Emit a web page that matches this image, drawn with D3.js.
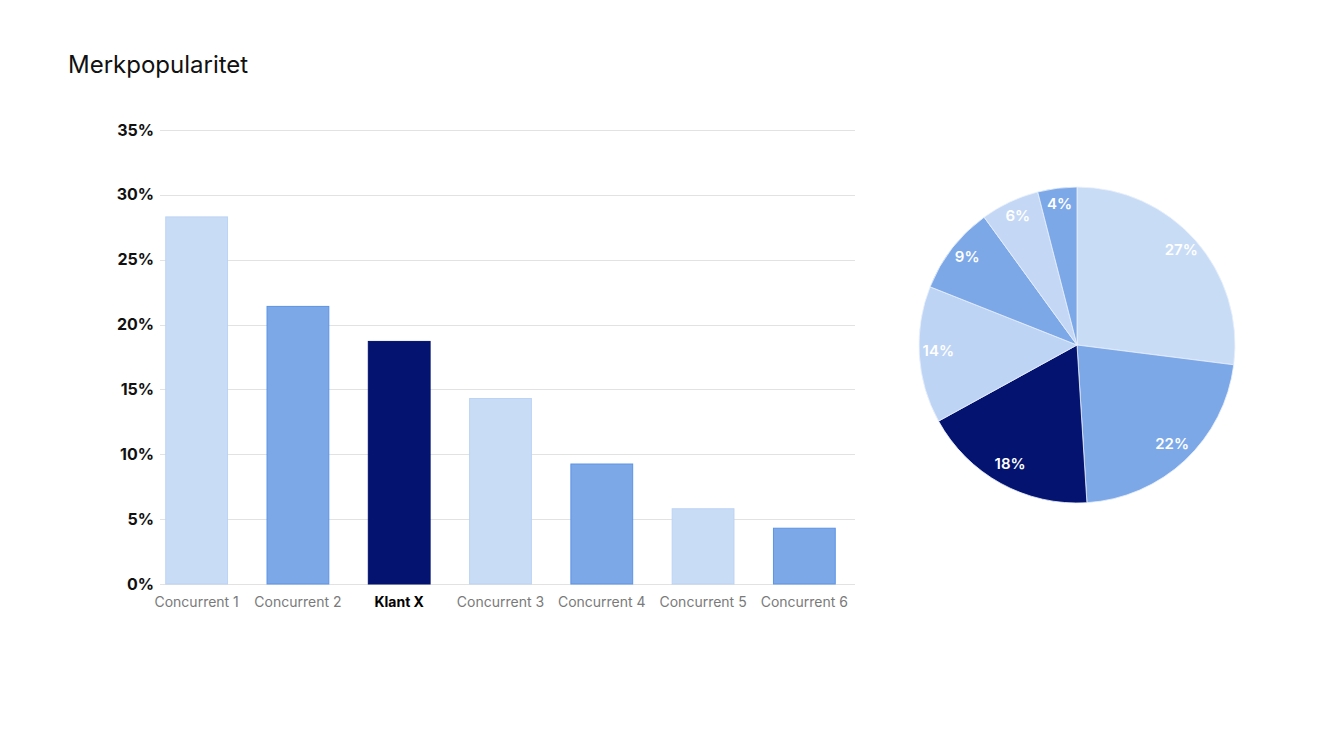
<!DOCTYPE html>
<html>
<head>
<meta charset="utf-8">
<script src="https://cdn.jsdelivr.net/npm/d3@7/dist/d3.min.js"></script>
<style>
  html, body { margin: 0; padding: 0; background: #ffffff; }
  svg { display: block; font-family: Inter, "Noto Sans", sans-serif; }
</style>
</head>
<body>
<svg id="chart" width="1332" height="730"></svg>
<script>
// Brand popularity per competitor (bar chart, percentages)
const categories = ["Concurrent 1", "Concurrent 2", "Klant X", "Concurrent 3", "Concurrent 4", "Concurrent 5", "Concurrent 6"];
const barValues = [28.3, 21.4, 18.7, 14.3, 9.25, 5.8, 4.3];
const barColors = ["#c9dcf6", "#7ca8e8", "#03136f", "#c9dcf6", "#7ca8e8", "#c9dcf6", "#7ca8e8"];
const barStrokes = ["#bcd3f4", "#5c93e6", "#03136f", "#bcd3f4", "#5c93e6", "#bcd3f4", "#5c93e6"];
const yTicks = [0, 5, 10, 15, 20, 25, 30, 35];

// Share of the same brands (pie chart, labelled percentages)
const pieValues = [27, 22, 18, 14, 9, 6, 4];
const pieColors = ["#c9dcf6", "#7ca8e8", "#03136f", "#bed4f4", "#7ca8e8", "#c4d8f5", "#7ca8e8"];

const svg = d3.select("#chart");

svg.append("text")
  .attr("x", 68).attr("y", 73)
  .attr("font-size", 24).attr("fill", "#111")
  .text("Merkpopularitet");

// ---- Bar chart ----
const y = d3.scaleLinear().domain([0, 35]).range([584, 130]);
const x = d3.scaleBand().domain(categories).range([146, 855])
  .paddingInner(0.38).paddingOuter(0.19);

const grid = svg.append("g");
grid.selectAll("line").data(yTicks).join("line")
  .attr("x1", 160).attr("x2", 855)
  .attr("y1", d => Math.round(y(d)) + 0.5).attr("y2", d => Math.round(y(d)) + 0.5)
  .attr("stroke", "#e2e2e2").attr("stroke-width", 1);

svg.append("g").selectAll("text").data(yTicks).join("text")
  .attr("x", 154).attr("y", d => y(d) + 5.5)
  .attr("text-anchor", "end")
  .attr("font-size", 16).attr("font-weight", 700).attr("fill", "#111")
  .text(d => d + "%");

svg.append("g").selectAll("rect").data(barValues).join("rect")
  .attr("x", (d, i) => x(categories[i]) + 0.5)
  .attr("y", d => y(d))
  .attr("width", x.bandwidth() - 1)
  .attr("height", d => y(0) - y(d))
  .attr("fill", (d, i) => barColors[i])
  .attr("stroke", (d, i) => barStrokes[i])
  .attr("stroke-width", 1);

svg.append("g").selectAll("text").data(categories).join("text")
  .attr("x", d => x(d) + x.bandwidth() / 2)
  .attr("y", 607)
  .attr("text-anchor", "middle")
  .attr("font-size", 14)
  .attr("font-weight", d => d === "Klant X" ? 700 : 400)
  .attr("fill", d => d === "Klant X" ? "#000" : "#7a7a7a")
  .text(d => d);

// ---- Pie chart ----
const cx = 1077, cy = 345, r = 158;
const pie = d3.pie().sort(null).value(d => d)(pieValues);
const arc = d3.arc().innerRadius(0).outerRadius(r);
const labelArc = d3.arc().innerRadius(139).outerRadius(139);

const pg = svg.append("g").attr("transform", `translate(${cx},${cy})`);
pg.selectAll("path").data(pie).join("path")
  .attr("d", arc)
  .attr("fill", (d, i) => pieColors[i])
  .attr("stroke", "#e8f0fc").attr("stroke-width", 0.8);

pg.selectAll("text").data(pie).join("text")
  .attr("transform", d => {
    const [px, py] = labelArc.centroid(d);
    return `translate(${px},${py - 3})`;
  })
  .attr("text-anchor", "middle").attr("dy", "0.35em")
  .attr("font-size", 15).attr("font-weight", 600).attr("fill", "#ffffff")
  .text(d => d.data + "%");
</script>
</body>
</html>
